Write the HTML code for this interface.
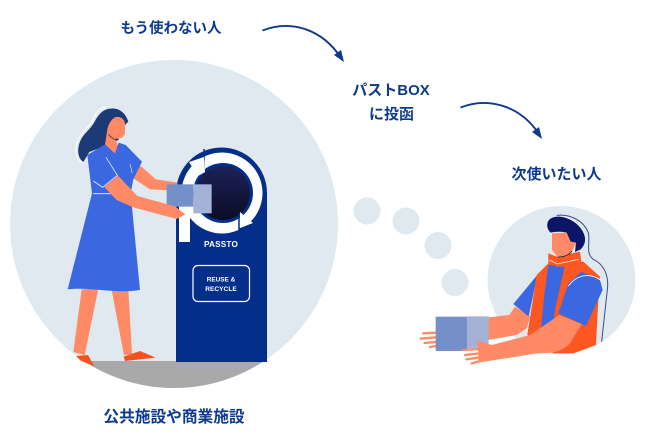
<!DOCTYPE html>
<html lang="ja">
<head>
<meta charset="utf-8">
<style>
html,body{margin:0;padding:0;background:#fff;width:650px;height:436px;overflow:hidden}
svg{display:block;filter:blur(.3px)}
.t{font-family:"Liberation Sans","Noto Sans CJK JP",sans-serif;font-weight:700;fill:#0d3a8c;text-anchor:middle}
.p{font-family:"Liberation Sans",sans-serif;font-weight:700;fill:#fff;text-anchor:middle}
</style>
</head>
<body>
<svg width="650" height="436" viewBox="0 0 650 436" xmlns="http://www.w3.org/2000/svg">
<defs>
<clipPath id="big"><circle cx="174" cy="224" r="164"/></clipPath>
<linearGradient id="hole" x1="0" y1="0" x2="0" y2="1"><stop offset="0" stop-color="#1d2259"/><stop offset="1" stop-color="#0a0c24"/></linearGradient>
</defs>

<circle cx="174" cy="224" r="164" fill="#dfe9ef"/>
<rect x="0" y="361" width="350" height="40" fill="#a9a9a9" clip-path="url(#big)"/>
<circle cx="561.500" cy="280" r="74" fill="#dfe9ef"/>
<circle cx="367" cy="211" r="13.500" fill="#dfe9ef"/>
<circle cx="406" cy="221" r="13.500" fill="#dfe9ef"/>
<circle cx="438" cy="245.500" r="13.500" fill="#dfe9ef"/>
<circle cx="455" cy="282.500" r="13.500" fill="#dfe9ef"/>

<!-- box -->
<path d="M176 362V193A45.500 45.500 0 0 1 267 193V362Z" fill="#032e8a"/>
<circle cx="222" cy="193" r="40.500" fill="#fff"/>
<rect x="179" y="205" width="11" height="37" fill="#fff"/>
<circle cx="223" cy="193" r="30" fill="#032e8a"/>
<circle cx="223" cy="193" r="27" fill="url(#hole)"/>
<!-- arrowheads of the recycling ring -->
<path d="M204 149V171" stroke="#032e8a" stroke-width="1.500" fill="none"/>
<path d="M189 162L204 157L205 172L198 176Z" fill="#fff"/>
<path d="M239 213V229L254 224" stroke="#032e8a" stroke-width="1.500" fill="none"/>
<path d="M240 212L253 223L240 228Z" fill="#fff"/>
<text class="p" x="221" y="247" font-size="8.200" letter-spacing=".2">PASSTO</text>
<rect x="193" y="265.500" width="56.500" height="36" rx="5" fill="none" stroke="#fff" stroke-width="1.200"/>
<text class="p" x="221" y="281.500" font-size="6.400">REUSE &amp;</text>
<text class="p" x="221" y="290.800" font-size="6.600">RECYCLE</text>

<!-- woman -->
<g transform="translate(60 90) scale(.3333)">
<path d="M150 49C122 49 108 68 98 90C84 116 60 128 50 160C44 185 48 212 70 218" fill="none" stroke="#fff" stroke-width="3"/>
<path d="M150 56C176 52 197 68 205 95L196 104L175 150L130 170L88 186L70 216C54 206 50 180 60 155C70 130 92 118 104 95C116 72 130 58 150 56Z" fill="#1c3a78"/>
<path d="M165 82C178 78 192 84 195 100L195 130C192 142 180 148 166 146L176 172L165 190L135 165L142 118C146 100 154 88 165 82Z" fill="#ff8a65"/>
<path d="M145 133Q155 146 170 150" fill="none" stroke="#1b1b33" stroke-width="2"/>
<path d="M65 598L115 596L74 795L40 786Z M155 600L205 598L216 792L192 796Z" fill="#ff8a65"/>
<path d="M48 798L84 795L103 829L62 812Z M191 800L240 783L287 803L195 813Z" fill="#f4511e"/>
<path d="M235 222L288 268L352 278L352 302L270 298L216 262Z" fill="#ff8a65"/>
<rect x="320" y="283" width="80" height="67" fill="#7590c8"/>
<rect x="400" y="283" width="55" height="87" fill="#a3b2d6"/>
<path d="M135 163L165 190L176 158L197 165L246 215L220 268L212 310L240 600C170 612 90 590 23 598L96 310L82 195Z" fill="#3b68e0"/>
<path d="M100 311H160" stroke="#fff" stroke-width="3" fill="none" opacity=".8"/>
<path d="M138 202L172 256L128 292L100 273" stroke="#fff" stroke-width="2.500" fill="none" opacity=".85"/>
<path d="M210 222L217 250" stroke="#fff" stroke-width="2" fill="none" opacity=".8"/>
<path d="M133 291L174 257L232 318L345 349L376 373L350 387L220 352L170 330Z" fill="#ff8a65"/>
</g>

<!-- man -->
<g transform="translate(420 200) scale(.3333)">
<path d="M410 46C450 42 490 60 505 98C512 125 495 160 520 178C550 192 568 225 562 270L545 425" fill="none" stroke="#3d4a8a" stroke-width="3"/>
<path d="M205 352L268 345L285 320L330 350L320 385L290 405L205 420Z" fill="#ff8a65"/>
<path d="M352 225L280 312L326 350Z" fill="#3b68e0"/>
<path d="M350 225L385 190L490 185L540 230L535 300L528 435L460 460H400L322 405Z" fill="#ff5722"/>
<path d="M385 195H435L407 320L396 392L362 398L372 290Z" fill="#3b68e0"/>
<path d="M385 160L410 170L480 155L484 186L440 200H410L385 190Z" fill="#ff5722"/>
<path d="M396 100L440 98L452 125L468 128L456 155L440 170L414 172L396 150Z" fill="#ff8a65"/>
<path d="M414 171Q440 172 456 154" fill="none" stroke="#1b1b33" stroke-width="2.500"/>
<path d="M392 98C378 85 378 62 395 54C420 42 460 58 480 82C498 105 502 128 482 148L465 156L468 128L452 125L440 98C425 94 405 95 392 98Z" fill="#0a1566"/>
<path d="M445 250L485 215L540 240L548 270L498 378L415 340Z" fill="#3b68e0"/>
<path d="M445 258C465 230 505 212 544 242" fill="none" stroke="#fff" stroke-width="3" opacity=".9"/>
<path d="M388 180L412 192L476 178" fill="none" stroke="#fff" stroke-width="2.500" opacity=".9"/>
<path d="M48 398L10 400M48 412L2 416M48 426L14 429M48 438L30 441" stroke="#ff8a65" stroke-width="7" stroke-linecap="round" fill="none"/>
<rect x="47" y="350" width="95" height="103" fill="#7590c8"/>
<rect x="142" y="349" width="64" height="96" fill="#a3b2d6"/>
<path d="M418 345L485 372L450 430C425 455 400 460 350 460L175 488L175 445L170 422L215 435L330 405Z" fill="#ff8a65"/>
<path d="M180 447L130 450M180 460L135 465M180 472L140 478M185 482L155 490" stroke="#ff8a65" stroke-width="7" stroke-linecap="round" fill="none"/>
</g>

<!-- arrows -->
<path d="M262.500 30.500C292 19 323 30 341 58" fill="none" stroke="#0d3a8c" stroke-width="1.900"/>
<path d="M344 62L334 55L341 50Z" fill="#0d3a8c"/>
<path d="M460.500 107.500C490 96 521 107 539 134" fill="none" stroke="#0d3a8c" stroke-width="1.900"/>
<path d="M542 139L532 132L539 127Z" fill="#0d3a8c"/>

<!-- labels -->
<text class="t" x="171" y="33" font-size="14.500">もう使わない人</text>
<text class="t" x="391" y="95" font-size="15">パストBOX</text>
<text class="t" x="391.500" y="119" font-size="15">に投函</text>
<text class="t" x="556.500" y="179" font-size="15">次使いたい人</text>
<text class="t" x="174" y="422" font-size="15.700">公共施設や商業施設</text>
</svg>
</body>
</html>
